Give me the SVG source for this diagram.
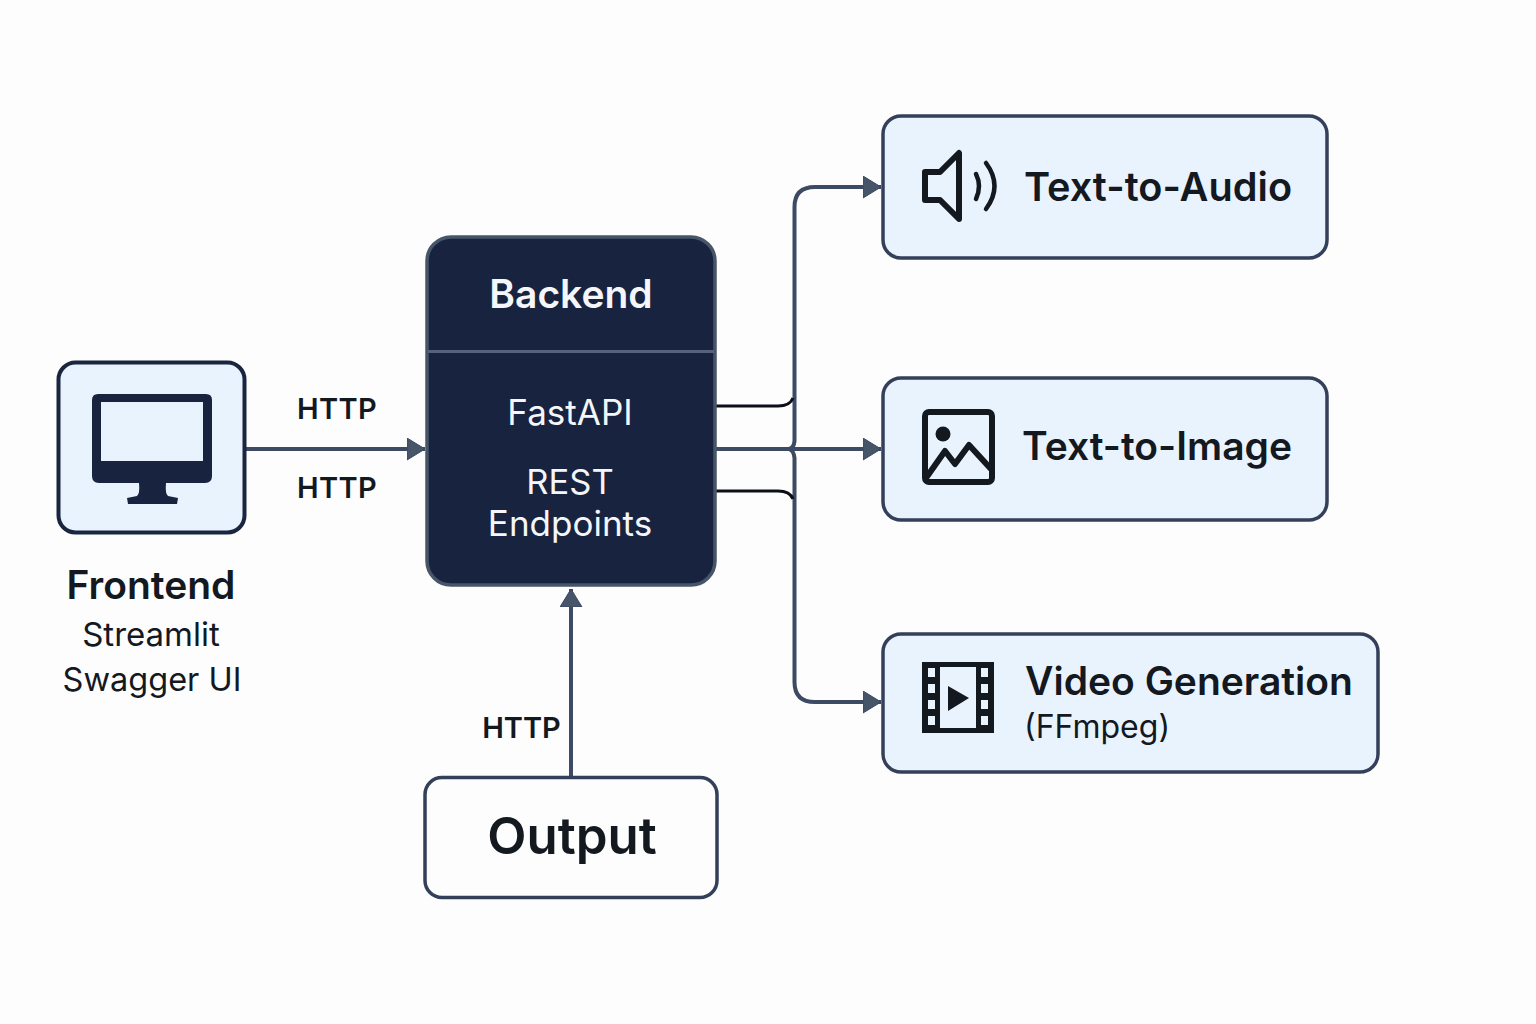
<svg xmlns="http://www.w3.org/2000/svg" width="1536" height="1024" viewBox="0 0 1536 1024">
<style>
text{font-family:"Inter","Liberation Sans",sans-serif;fill:#14181f;text-anchor:middle}
.b{font-weight:600}
.w{fill:#f4f6fa}
.lbl{font-size:29px;font-weight:600;letter-spacing:.3px}
.conn{fill:none;stroke:#3d4a63;stroke-width:4}
.blk{fill:none;stroke:#0c0f18;stroke-width:3}
.box{fill:#e9f3fe;stroke:#34405a;stroke-width:3.500}
.ico{fill:none;stroke:#14181f;stroke-width:6;stroke-linejoin:round;stroke-linecap:round}
</style>
<defs>
<marker id="ah" markerUnits="userSpaceOnUse" markerWidth="20" markerHeight="24" refX="18" refY="11" orient="auto">
<path d="M0 0L18 11L0 22Z" fill="#475569" stroke="#3b4760" stroke-width="1"/>
</marker>
</defs>
<rect width="1536" height="1024" fill="#fdfdfd"/>
<g id="connectors">
<path class="conn" d="M246 449H425" marker-end="url(#ah)"/>
<path class="conn" d="M571 776V589" marker-end="url(#ah)"/>
<path class="conn" d="M716 449H881" marker-end="url(#ah)"/>
<path class="conn" d="M789 449Q794 448 794.500 441V207Q794.500 187 815 187H881" marker-end="url(#ah)"/>
<path class="conn" d="M789 449Q794 451 794.500 458V682Q794.500 702 815 702H881" marker-end="url(#ah)"/>
<path class="blk" d="M716 406H778Q790 406 793 398"/>
<path class="blk" d="M716 491H778Q790 491 793 499"/>
</g>
<g id="frontend">
<rect class="box" x="58.500" y="362.500" width="186" height="170" rx="17" style="stroke:#1a2540;stroke-width:4"/>
<path d="M98 394H206Q212 394 212 400V476Q212 483 205 483H99Q92 483 92 476V400Q92 394 98 394Z" fill="#18233f"/>
<rect x="101" y="402" width="102" height="59" fill="#e9f3fe"/>
<path d="M139 483H166Q165 494 168 496L178 498L177 504H128L127 498L137 496Q140 494 139 483Z" fill="#18233f"/>
<text class="b" x="151" y="599" font-size="39">Frontend</text>
<text x="151" y="646" font-size="33">Streamlit</text>
<text x="152" y="691" font-size="32.500">Swagger UI</text>
</g>
<g id="backend">
<rect x="427" y="237" width="288" height="348" rx="24" fill="#18233f" stroke="#475569" stroke-width="3.500"/>
<path d="M428 351.500H714" stroke="#56627a" stroke-width="3"/>
<text class="b w" x="571" y="308" font-size="39">Backend</text>
<text class="w" x="570" y="425" font-size="35">FastAPI</text>
<text class="w" x="570" y="494" font-size="34.500">REST</text>
<text class="w" x="570" y="536" font-size="35">Endpoints</text>
</g>
<g id="output">
<rect x="425" y="777.500" width="292" height="120" rx="17" fill="#fdfdfd" stroke="#34405a" stroke-width="3.500"/>
<text class="b" x="572" y="854" font-size="51">Output</text>
</g>
<g id="text-to-audio">
<rect class="box" x="883" y="116" width="444" height="142" rx="18"/>
<path class="ico" d="M925 172H940L959 153V219L940 200H925Z"/>
<path class="ico" d="M976 174Q982 186 976 199" style="stroke-width:4.500"/>
<path class="ico" d="M986 163Q1003 186 986 209" style="stroke-width:4.500"/>
<text class="b" x="1158" y="201" font-size="39.700">Text-to-Audio</text>
</g>
<g id="text-to-image">
<rect class="box" x="883" y="378" width="444" height="142" rx="18"/>
<rect class="ico" x="925" y="412" width="67" height="70" rx="4"/>
<circle cx="943" cy="434" r="7.500" fill="#14181f"/>
<path class="ico" d="M926 478L945 451L955 464L969 445L991 469" style="stroke-linecap:butt"/>
<text class="b" x="1157" y="460" font-size="39">Text-to-Image</text>
</g>
<g id="video-generation">
<rect class="box" x="883" y="634" width="495" height="138" rx="18"/>
<path fill-rule="evenodd" fill="#14181f" d="M922 662H994V733H922ZM940 667V728H976V667ZM928 668V677H935V668ZM981 668V677H988V668ZM928 684V693H935V684ZM981 684V693H988V684ZM928 700V709H935V700ZM981 700V709H988V700ZM928 716V725H935V716ZM981 716V725H988V716Z"/>
<path d="M948 686L969 698L948 711Z" fill="#14181f"/>
<text class="b" x="1189" y="695" font-size="39">Video Generation</text>
<text x="1097" y="738" font-size="32">(FFmpeg)</text>
</g>
<g id="labels">
<text class="lbl" x="337" y="419">HTTP</text>
<text class="lbl" x="337" y="498">HTTP</text>
<text class="lbl" x="521.500" y="738" style="letter-spacing:0">HTTP</text>
</g>
</svg>
